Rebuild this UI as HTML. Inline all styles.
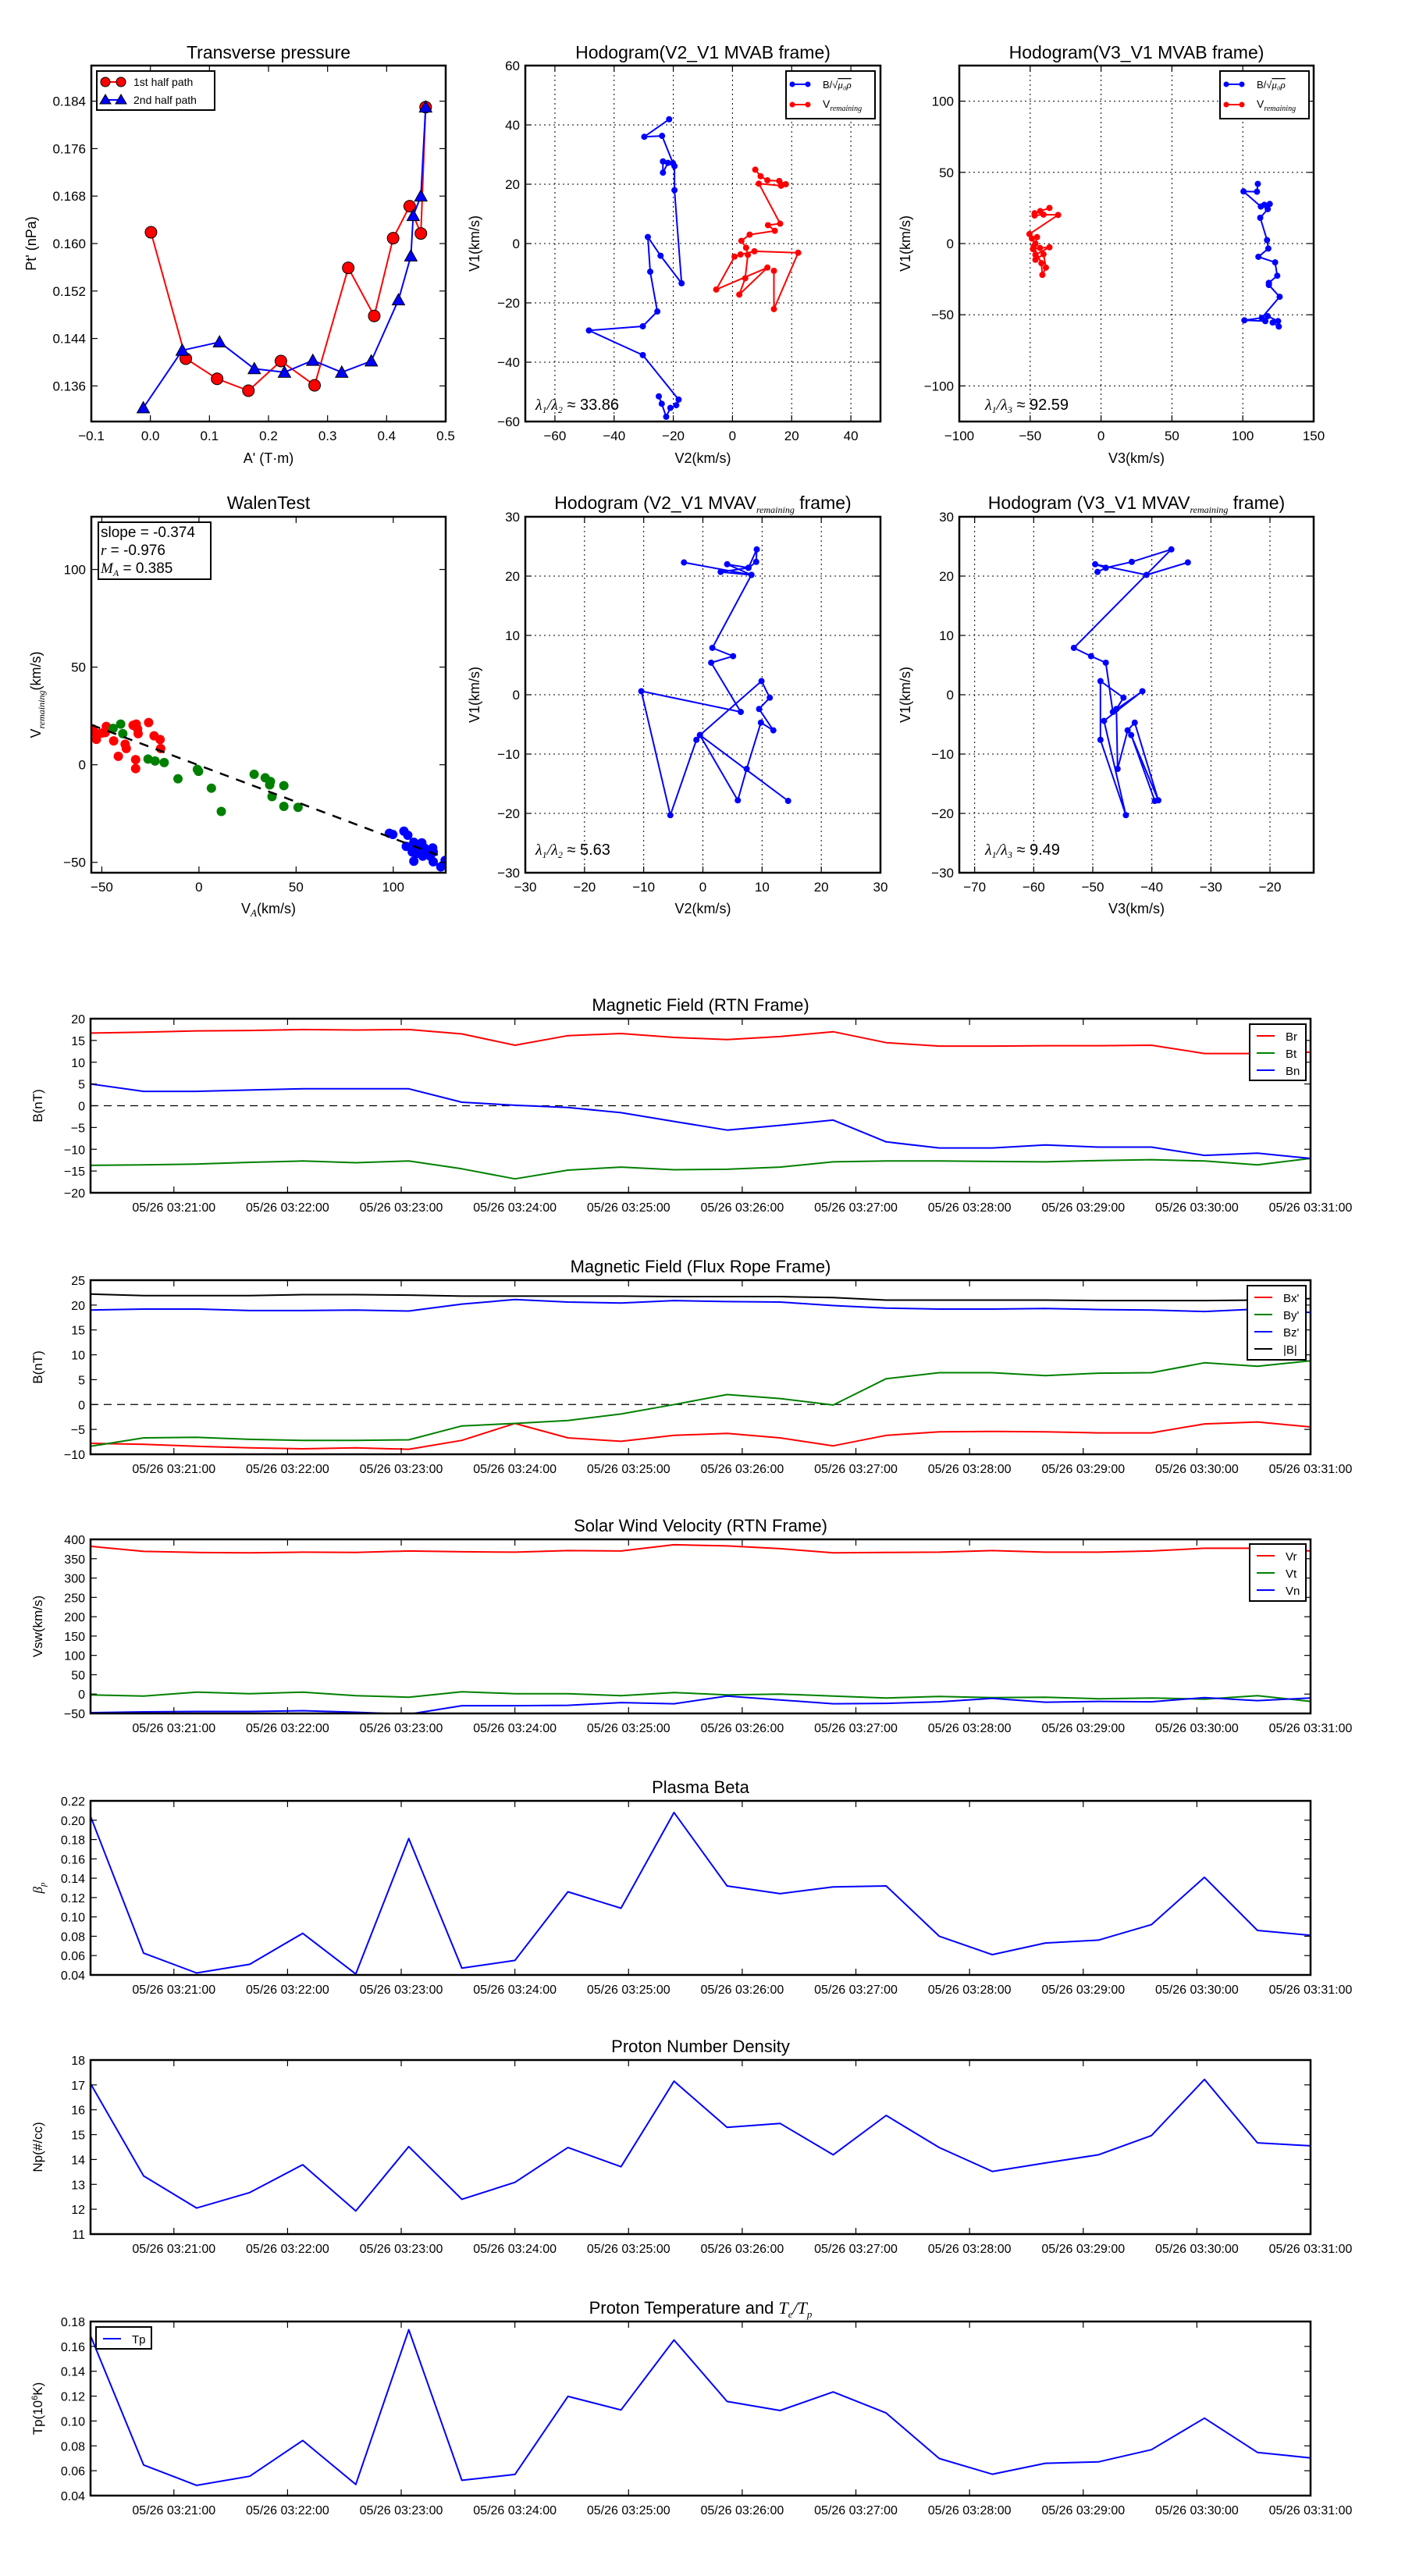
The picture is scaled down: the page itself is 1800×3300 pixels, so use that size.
<!DOCTYPE html>
<html><head><meta charset="utf-8"><style>
html,body{margin:0;padding:0;background:#fff;}
svg{display:block;font-family:"Liberation Sans","DejaVu Sans",sans-serif;}
</style></head>
<body>
<svg id="fig" xmlns="http://www.w3.org/2000/svg" width="1800" height="3300" viewBox="0 0 1800 3300">
<rect width="1800" height="3300" fill="#fff"/>
</svg>
<script>
// ---------- DATA ----------
const ptRedA=[0.001,0.060,0.113,0.166,0.221,0.278,0.335,0.379,0.411,0.439,0.458,0.466];
const ptRedP=[0.1619,0.1406,0.1372,0.1352,0.1402,0.1361,0.1559,0.1478,0.1609,0.1663,0.1617,0.1830];
const ptBlueA=[-0.012,0.054,0.117,0.176,0.227,0.275,0.324,0.374,0.420,0.441,0.445,0.458,0.466];
const ptBlueP=[0.1323,0.1420,0.1434,0.1389,0.1383,0.1403,0.1383,0.1402,0.1505,0.1579,0.1647,0.1680,0.1830];

const h1BlueX=[-21.4,-29.8,-23.8,-20.1,-23.5,-23.5,-21.8,-19.6,-19.6,-17.2,-24.3,-28.6,-27.8,-25.4,-30.3,-48.5,-30.3,-18.2,-19.0,-21.0,-22.4,-23.9,-24.9];
const h1BlueY=[41.9,36.0,36.3,27.1,27.7,23.9,27.2,26.1,18.0,-13.4,-4.1,2.2,-9.5,-22.9,-27.9,-29.3,-37.6,-52.6,-54.5,-55.4,-58.4,-54.0,-51.5];
const h1RedX=[7.7,9.5,11.8,15.8,18.0,16.4,8.9,16.1,12.0,14.3,5.8,3.0,4.6,5.2,4.3,2.3,11.8,-5.5,0.7,2.7,7.4,22.2,14.0,14.0];
const h1RedY=[24.9,22.7,21.3,21.1,20.0,19.5,20.2,6.7,6.2,4.3,3.0,0.9,-1.4,-3.8,-11.7,-17.2,-8.1,-15.5,-4.4,-3.7,-2.6,-3.1,-22.1,-9.2];

const h2RedX=[-36.4,-42.9,-46.9,-46.9,-40.6,-30.3,-50.5,-48.8,-45.2,-46.3,-48.0,-43.1,-36.4,-46.3,-46.3,-40.6,-38.9,-41.4,-42.1,-47.6];
const h2RedY=[25.0,22.8,21.3,19.7,20.3,20.1,6.7,3.5,4.5,0.0,-3.9,-3.1,-2.6,-7.9,-11.4,-7.5,-16.9,-22.0,-13.8,-2.0];
const h2BlueX=[110.6,110.0,100.5,112.7,115.2,119.0,117.6,112.3,117.1,118.0,111.0,122.8,124.3,118.4,118.4,126.0,113.4,101.1,115.9,117.6,124.9,121.1,125.4];
const h2BlueY=[41.9,36.4,36.6,26.0,27.2,27.8,24.2,18.1,2.4,-3.5,-9.3,-13.2,-22.6,-27.6,-29.1,-37.4,-52.2,-53.9,-54.5,-51.0,-54.5,-55.5,-58.3];

const wRedX=[-53.1,-52.8,-50,-47.7,-48.2,-43.9,-41.5,-38.0,-37.4,-33.9,-32.3,-31.6,-31.3,-32.6,-32.6,-25.9,-23.1,-20.0,-19.7,-54.6];
const wRedY=[16.2,13.0,16.2,19.6,16.5,12.2,4.3,10.5,8.3,20.2,20.8,18.3,15.9,2.6,-2.0,21.6,14.8,12.9,8.3,18.3];
const wGreenX=[-44.2,-40.3,-39.2,-26.2,-22.6,-17.9,-10.8,-0.8,-0.2,6.4,11.5,28.4,34.1,36.8,36.4,37.6,43.7,43.7,51.0];
const wGreenY=[18.6,20.8,15.9,2.9,1.9,1.1,-7.2,-2.4,-3.4,-12.0,-23.9,-4.9,-6.7,-8.6,-10.3,-16.3,-10.7,-21.3,-21.8];
const wBlueX=[98.0,99.8,105.5,107.5,106.7,110.6,111.4,109.8,114.7,116.0,115.2,119.0,120.3,120.6,110.6,120.6,124.5,126.7,112.2,116.8];
const wBlueY=[-35.1,-35.7,-34.0,-36.1,-41.8,-39.7,-42.6,-44.7,-40.0,-42.6,-46.8,-46.8,-42.6,-44.7,-49.4,-49.7,-52.3,-49.0,-45.4,-45.4];
const walenSlope=-0.374, walenIntercept=-0.3;

const h3X=[-3.2,8.2,4.1,7.7,9.0,9.1,7.7,3.0,8.2,1.6,5.1,1.4,6.4,-10.4,-5.5,-1.1,-0.5,9.9,11.3,9.5,11.9,9.8,7.4,5.9,-0.5,14.4];
const h3Y=[22.3,20.2,22.0,21.4,22.4,24.5,21.4,20.7,20.2,7.9,6.5,5.4,-2.9,0.6,-20.3,-7.6,-6.8,2.3,-0.5,-2.4,-6.0,-4.7,-12.5,-17.8,-6.8,-17.9];
const h4X=[-33.9,-40.9,-49.6,-47.8,-49.2,-47.8,-43.4,-36.7,-53.2,-50.3,-47.8,-46.6,-41.6,-48.1,-44.4,-48.7,-48.7,-44.8,-46.0,-45.8,-44.1,-42.9,-38.9,-43.5,-39.5];
const h4Y=[22.3,20.2,22.0,21.4,20.7,21.4,22.4,24.5,7.9,6.5,5.4,-2.9,0.6,-4.4,-20.3,-7.6,2.3,-0.5,-2.4,-12.5,-6.0,-4.7,-17.8,-6.8,-17.9];

// time series: seconds relative to 03:21:00
const times=[-44,-16,12,40,68,96,124,152,180,208,236,264,292,320,348,376,404,432,460,488,516,544,572,600];
const tickMinutes=["05/26 03:21:00","05/26 03:22:00","05/26 03:23:00","05/26 03:24:00","05/26 03:25:00","05/26 03:26:00","05/26 03:27:00","05/26 03:28:00","05/26 03:29:00","05/26 03:30:00","05/26 03:31:00"];
const Br=[16.7,16.9,17.2,17.3,17.5,17.4,17.5,16.5,13.9,16.1,16.6,15.7,15.2,15.9,17.0,14.5,13.7,13.7,13.8,13.8,13.9,12.0,12.0,12.3];
const Bt=[-13.7,-13.6,-13.4,-13.0,-12.7,-13.1,-12.7,-14.5,-16.8,-14.8,-14.1,-14.7,-14.6,-14.1,-12.9,-12.7,-12.7,-12.8,-12.9,-12.6,-12.4,-12.7,-13.6,-12.1];
const Bn=[5.0,3.3,3.3,3.6,3.9,3.9,3.9,0.8,0.1,-0.4,-1.6,-3.6,-5.6,-4.5,-3.3,-8.3,-9.7,-9.7,-9.0,-9.5,-9.5,-11.4,-10.9,-12.1];
const Bxp=[-7.8,-8.0,-8.4,-8.7,-8.9,-8.7,-9.0,-7.2,-3.8,-6.7,-7.4,-6.2,-5.8,-6.7,-8.3,-6.2,-5.5,-5.4,-5.5,-5.7,-5.7,-3.9,-3.5,-4.5];
const Byp=[-8.4,-6.7,-6.6,-7.0,-7.2,-7.2,-7.1,-4.3,-3.8,-3.2,-1.9,0.0,2.0,1.2,-0.1,5.2,6.4,6.4,5.8,6.3,6.4,8.4,7.7,8.8];
const Bzp=[19.0,19.2,19.2,18.9,18.9,19.0,18.8,20.2,21.1,20.6,20.4,20.9,20.7,20.6,19.9,19.4,19.2,19.2,19.3,19.1,19.0,18.7,19.2,18.5];
const Bmag=[22.2,21.9,21.9,21.9,22.1,22.1,22.0,21.8,21.8,21.8,21.8,21.7,21.7,21.7,21.5,21.0,21.0,21.0,21.0,20.9,20.9,20.9,21.0,21.3];
const Vr=[382,369,366,365,367,366,370,368,367,371,370,386,383,376,365,366,367,371,367,367,370,377,377,370];
const Vt=[-2,-5,5,1,5,-4,-8,6,1,1,-4,4,-2,0,-5,-10,-6,-9,-8,-12,-10,-13,-4,-19];
const Vn=[-48,-46,-45,-45,-43,-47,-52,-30,-30,-29,-22,-25,-5,-15,-25,-24,-20,-11,-21,-19,-20,-9,-17,-10];
const beta=[0.204,0.0625,0.042,0.051,0.083,0.041,0.181,0.047,0.055,0.126,0.109,0.208,0.132,0.124,0.131,0.132,0.080,0.061,0.073,0.076,0.092,0.141,0.086,0.081];
const Np=[17.05,13.34,12.05,12.67,13.79,11.93,14.52,12.40,13.08,14.48,13.71,17.15,15.29,15.45,14.19,15.77,14.48,13.52,13.86,14.19,14.96,17.22,14.67,14.55];
const Tp=[0.1685,0.0646,0.0482,0.0556,0.0843,0.049,0.1734,0.0523,0.057,0.1198,0.1089,0.1652,0.1157,0.1084,0.1234,0.1064,0.0698,0.0572,0.066,0.0671,0.0769,0.1023,0.0747,0.0703];

// ---------- HELPERS ----------
const NS="http://www.w3.org/2000/svg";
const fig=document.getElementById('fig');
function el(tag,attrs,parent){const e=document.createElementNS(NS,tag);for(const k in attrs)e.setAttribute(k,attrs[k]);(parent||fig).appendChild(e);return e;}
function tag(e,n,inter){
  
  
  return e;}
function fmt(v,d){let s=v.toFixed(d);if(v<0||s.startsWith('-'))s='\u2212'+s.replace('-','');return s;}
let clipId=0;
function axes(o){
  const g=el('g',{});tag(g,o.name+'-panel');
  const sx=v=>o.l+(v-o.xmin)/(o.xmax-o.xmin)*o.w;
  const sy=v=>o.t+o.h-(v-o.ymin)/(o.ymax-o.ymin)*o.h;
  const cid='c'+(clipId++);
  const cp=el('clipPath',{id:cid},g);el('rect',{x:o.l,y:o.t,width:o.w,height:o.h},cp);
  // grid
  if(o.grid){
    o.xt.forEach(v=>{const ln=el('line',{x1:sx(v),x2:sx(v),y1:o.t,y2:o.t+o.h,stroke:'#000','stroke-width':1,'stroke-dasharray':'2,4'},g);tag(ln,'x-gridline');});
    o.yt.forEach(v=>{const ln=el('line',{y1:sy(v),y2:sy(v),x1:o.l,x2:o.l+o.w,stroke:'#000','stroke-width':1,'stroke-dasharray':'2,4'},g);tag(ln,'y-gridline');});
  }
  const data=el('g',{'clip-path':'url(#'+cid+')'},g);tag(data,o.name+'-plot-area');
  // ticks
  const tl=8;
  o.xt.forEach((v,i)=>{const x=sx(v);
    el('line',{x1:x,x2:x,y1:o.t+o.h,y2:o.t+o.h-tl,stroke:'#000','stroke-width':1.2},g);
    el('line',{x1:x,x2:x,y1:o.t,y2:o.t+tl,stroke:'#000','stroke-width':1.2},g);
    const lab=o.xl?o.xl[i]:fmt(v,o.xd||0);
    const t=el('text',{x:x,y:o.t+o.h+(o.xoff||24),'text-anchor':'middle','font-size':o.tfs||17},g);t.textContent=lab;tag(t,'x-tick-label');});
  o.yt.forEach((v,i)=>{const y=sy(v);
    el('line',{x1:o.l,x2:o.l+tl,y1:y,y2:y,stroke:'#000','stroke-width':1.2},g);
    el('line',{x1:o.l+o.w,x2:o.l+o.w-tl,y1:y,y2:y,stroke:'#000','stroke-width':1.2},g);
    const t=el('text',{x:o.l-7,y:y+6,'text-anchor':'end','font-size':o.tfs||17},g);t.textContent=o.yl?o.yl[i]:fmt(v,o.yd||0);tag(t,'y-tick-label');});
  return {g,data,sx,sy,o};
}
function frame(a){const r=el('rect',{x:a.o.l,y:a.o.t,width:a.o.w,height:a.o.h,fill:'none',stroke:'#000','stroke-width':2.5},a.g);tag(r,a.o.name+'-frame');}
function title(a,html,y){const t=el('text',{x:a.o.l+a.o.w/2,y:y,'text-anchor':'middle','font-size':a.o.titleFs||23},a.g);t.innerHTML=html;tag(t,a.o.name+'-title');}
function xlabel(a,html,y){const t=el('text',{x:a.o.l+a.o.w/2,y:y,'text-anchor':'middle','font-size':18},a.g);t.innerHTML=html;tag(t,'x-axis-title');}
function ylabel(a,html,x,fs){const cy=a.o.t+a.o.h/2;const t=el('text',{x:x,y:cy,'text-anchor':'middle','font-size':fs||18,transform:'rotate(-90 '+x+' '+cy+')'},a.g);t.innerHTML=html;tag(t,'y-axis-title');}
function line(a,xs,ys,color,w,name){const p=xs.map((x,i)=>a.sx(x).toFixed(1)+','+a.sy(ys[i]).toFixed(1)).join(' ');const l=el('polyline',{points:p,fill:'none',stroke:color,'stroke-width':w||2,'stroke-linejoin':'round'},a.data);tag(l,name);return l;}
function dots(a,xs,ys,color,r,name,stroke){xs.forEach((x,i)=>{const c=el('circle',{cx:a.sx(x),cy:a.sy(ys[i]),r:r,fill:color,stroke:stroke||'none','stroke-width':1},a.data);tag(c,name);});}
function tris(a,xs,ys,color,s,name){xs.forEach((x,i)=>{const cx=a.sx(x),cy=a.sy(ys[i]);const p=el('polygon',{points:`${cx},${cy-s} ${cx-s},${cy+s*0.8} ${cx+s},${cy+s*0.8}`,fill:color,stroke:'#000','stroke-width':1},a.data);tag(p,name);});}
function range(a,b,s){const r=[];for(let v=a;v<=b+1e-9;v+=s)r.push(+v.toFixed(6));return r;}
const SUBREM='<tspan font-family="Liberation Serif" font-style="italic" font-size="12" dy="5">remaining</tspan>';

// ---------- ROW 1 ----------
const R1={t:84,h:456};
let a=axes({name:'transverse-pressure',l:117,t:R1.t,w:454,h:R1.h,xmin:-0.1,xmax:0.5,ymin:0.130,ymax:0.190,xt:range(-0.1,0.5,0.1),yt:range(0.136,0.184,0.008),xd:1,yd:3});
line(a,ptRedA,ptRedP,'#ff0000',2,'first-half-line');dots(a,ptRedA,ptRedP,'#ff0000',7.5,'first-half-marker','#000');
line(a,ptBlueA,ptBlueP,'#0000ff',2,'second-half-line');tris(a,ptBlueA,ptBlueP,'#0000ff',8,'second-half-marker');
frame(a);title(a,'Transverse pressure',75);xlabel(a,"A' (T\u00b7m)",593);ylabel(a,"Pt' (nPa)",46);
{const lg=el('g',{},a.g);tag(lg,'legend');el('rect',{x:124,y:91,width:151,height:50,fill:'#fff',stroke:'#000','stroke-width':2},lg);
 el('line',{x1:135,x2:155,y1:105,y2:105,stroke:'#f00','stroke-width':2},lg);el('circle',{cx:135,cy:105,r:6,fill:'#f00',stroke:'#000'},lg);el('circle',{cx:155,cy:105,r:6,fill:'#f00',stroke:'#000'},lg);
 let t=el('text',{x:171,y:110,'font-size':14},lg);t.textContent='1st half path';tag(t,'legend-entry');
 el('line',{x1:135,x2:155,y1:128,y2:128,stroke:'#00f','stroke-width':2},lg);
 [135,155].forEach(cx=>el('polygon',{points:`${cx},${121} ${cx-7},${133} ${cx+7},${133}`,fill:'#00f',stroke:'#000'},lg));
 t=el('text',{x:171,y:133,'font-size':14},lg);t.textContent='2nd half path';tag(t,'legend-entry');}

function hodoLegend(a,x,y){const lg=el('g',{},a.g);tag(lg,'legend');el('rect',{x:x,y:y,width:114,height:61,fill:'#fff',stroke:'#000','stroke-width':2},lg);
 el('line',{x1:x+8,x2:x+28,y1:y+17,y2:y+17,stroke:'#00f','stroke-width':2},lg);el('circle',{cx:x+8,cy:y+17,r:3.5,fill:'#00f'},lg);el('circle',{cx:x+28,cy:y+17,r:3.5,fill:'#00f'},lg);
 let t=el('text',{x:x+47,y:y+22,'font-size':13},lg);t.innerHTML='B/\u221a<tspan font-family="Liberation Serif" font-style="italic" text-decoration="overline">\u03bc\u2080\u03c1</tspan>';tag(t,'legend-entry');
 el('line',{x1:x+8,x2:x+28,y1:y+43,y2:y+43,stroke:'#f00','stroke-width':2},lg);el('circle',{cx:x+8,cy:y+43,r:3.5,fill:'#f00'},lg);el('circle',{cx:x+28,cy:y+43,r:3.5,fill:'#f00'},lg);
 t=el('text',{x:x+47,y:y+47,'font-size':14},lg);t.innerHTML='V<tspan font-family="Liberation Serif" font-style="italic" font-size="10" dy="4">remaining</tspan>';tag(t,'legend-entry');}
function lam(a,x,y,txt,sub){const t=el('text',{x:x,y:y,'font-size':20},a.g);t.innerHTML='<tspan font-family="Liberation Serif" font-style="italic">\u03bb<tspan font-size="12" dy="4">1</tspan><tspan dy="-4">/\u03bb</tspan><tspan font-size="12" dy="4">'+sub+'</tspan></tspan><tspan dy="-4"> \u2248 '+txt+'</tspan>';tag(t,'eigenvalue-ratio');}

a=axes({name:'hodogram-v2-v1-mvab',l:673,t:R1.t,w:455,h:R1.h,xmin:-70,xmax:50,ymin:-60,ymax:60,xt:range(-60,40,20),yt:range(-60,60,20),grid:true});
line(a,h1BlueX,h1BlueY,'#0000ff',2,'b-alfven-line');dots(a,h1BlueX,h1BlueY,'#0000ff',4,'b-alfven-point');
line(a,h1RedX,h1RedY,'#ff0000',2,'v-remaining-line');dots(a,h1RedX,h1RedY,'#ff0000',4,'v-remaining-point');
frame(a);title(a,'Hodogram(V2_V1 MVAB frame)',75);xlabel(a,'V2(km/s)',593);ylabel(a,'V1(km/s)',614);hodoLegend(a,1007,91);lam(a,686,525,'33.86','2');

a=axes({name:'hodogram-v3-v1-mvab',l:1229,t:R1.t,w:454,h:R1.h,xmin:-100,xmax:150,ymin:-125,ymax:125,xt:range(-100,150,50),yt:range(-100,100,50),grid:true});
line(a,h2RedX,h2RedY,'#ff0000',2,'v-remaining-line');dots(a,h2RedX,h2RedY,'#ff0000',4,'v-remaining-point');
line(a,h2BlueX,h2BlueY,'#0000ff',2,'b-alfven-line');dots(a,h2BlueX,h2BlueY,'#0000ff',4,'b-alfven-point');
frame(a);title(a,'Hodogram(V3_V1 MVAB frame)',75);xlabel(a,'V3(km/s)',593);ylabel(a,'V1(km/s)',1166);hodoLegend(a,1563,91);lam(a,1262,525,'92.59','3');

// ---------- ROW 2 ----------
const R2={t:662,h:456};
a=axes({name:'walen-test',l:117,t:R2.t,w:454,h:R2.h,xmin:-55.4,xmax:127,ymin:-55.3,ymax:127,xt:[-50,0,50,100],yt:[-50,0,50,100]});
dots(a,wRedX,wRedY,'#ff0000',6,'walen-point-red');dots(a,wGreenX,wGreenY,'#008000',6,'walen-point-green');dots(a,wBlueX,wBlueY,'#0000ff',6,'walen-point-blue');
{const xs=[-55.4,127];const l=el('line',{x1:a.sx(xs[0]),y1:a.sy(walenSlope*xs[0]+walenIntercept),x2:a.sx(xs[1]),y2:a.sy(walenSlope*xs[1]+walenIntercept),stroke:'#000','stroke-width':2.5,'stroke-dasharray':'12,10'},a.data);tag(l,'regression-line');}
frame(a);title(a,'WalenTest',652);xlabel(a,'V<tspan font-family="Liberation Serif" font-style="italic" font-size="13" dy="4">A</tspan><tspan dy="-4">(km/s)</tspan>',1170);
ylabel(a,'V<tspan font-family="Liberation Serif" font-style="italic" font-size="12" dy="5">remaining</tspan><tspan dy="-5">(km/s)</tspan>',52);
{const bx=el('g',{},a.g);tag(bx,'fit-stats-box');el('rect',{x:126,y:669,width:144,height:73,fill:'#fff',stroke:'#000','stroke-width':2},bx);
 let t=el('text',{x:129,y:688,'font-size':19},bx);t.textContent='slope = -0.374';tag(t,'slope-label');
 t=el('text',{x:129,y:711,'font-size':19},bx);t.innerHTML='<tspan font-family="Liberation Serif" font-style="italic">r</tspan> = -0.976';tag(t,'r-label');
 t=el('text',{x:129,y:734,'font-size':19},bx);t.innerHTML='<tspan font-family="Liberation Serif" font-style="italic">M<tspan font-size="12" dy="4">A</tspan></tspan><tspan dy="-4"> = 0.385</tspan>';tag(t,'ma-label');}

a=axes({name:'hodogram-v2-v1-mvav',l:673,t:R2.t,w:455,h:R2.h,xmin:-30,xmax:30,ymin:-30,ymax:30,xt:range(-30,30,10),yt:range(-30,30,10),grid:true});
line(a,h3X,h3Y,'#0000ff',2,'hodogram-line');dots(a,h3X,h3Y,'#0000ff',4,'hodogram-point');
frame(a);title(a,'Hodogram (V2_V1 MVAV'+SUBREM+'<tspan dy="-5"> frame)</tspan>',652);xlabel(a,'V2(km/s)',1170);ylabel(a,'V1(km/s)',614);lam(a,686,1095,'5.63','2');

a=axes({name:'hodogram-v3-v1-mvav',l:1229,t:R2.t,w:454,h:R2.h,xmin:-72.6,xmax:-12.6,ymin:-30,ymax:30,xt:range(-70,-20,10),yt:range(-30,30,10),grid:true});
line(a,h4X,h4Y,'#0000ff',2,'hodogram-line');dots(a,h4X,h4Y,'#0000ff',4,'hodogram-point');
frame(a);title(a,'Hodogram (V3_V1 MVAV'+SUBREM+'<tspan dy="-5"> frame)</tspan>',652);xlabel(a,'V3(km/s)',1170);ylabel(a,'V1(km/s)',1166);lam(a,1262,1095,'9.49','3');

// ---------- TIME SERIES ----------
const TS={l:116,w:1563,h:223,xmin:-44,xmax:600};
const tTicks=range(0,600,60);
function ts(name,top,ymin,ymax,yt,yd,ttl,ylab,series,legend,zero){
  const a=axes({name:name,l:TS.l,t:top,w:TS.w,h:TS.h,xmin:TS.xmin,xmax:TS.xmax,ymin:ymin,ymax:ymax,xt:tTicks,xl:tickMinutes,yt:yt,yd:yd,tfs:16,titleFs:22});
  if(zero){const z=el('line',{x1:TS.l,x2:TS.l+TS.w,y1:a.sy(0),y2:a.sy(0),stroke:'#000','stroke-width':1.3,'stroke-dasharray':'10,7'},a.data);tag(z,'zero-line');}
  series.forEach(s=>line(a,times,s.v,s.c,2,s.n+'-line'));
  frame(a);title(a,ttl,top-10);ylabel(a,ylab,54,17);
  if(legend){const lg=el('g',{},a.g);tag(lg,'legend');el('rect',{x:legend.x,y:legend.y,width:legend.w,height:legend.h,fill:'#fff',stroke:'#000','stroke-width':2},lg);
    series.forEach((s,i)=>{const yy=legend.y+15+i*legend.step;el('line',{x1:legend.x+9,x2:legend.x+32,y1:yy,y2:yy,stroke:s.c,'stroke-width':2},lg);const t=el('text',{x:legend.x+46,y:yy+6,'font-size':15},lg);t.textContent=s.lab;tag(t,'legend-entry');});}
  return a;}
ts('magnetic-field-rtn',1305,-20,20,range(-20,20,5),0,'Magnetic Field (RTN Frame)','B(nT)',
  [{v:Br,c:'#ff0000',n:'br',lab:'Br'},{v:Bt,c:'#008000',n:'bt',lab:'Bt'},{v:Bn,c:'#0000ff',n:'bn',lab:'Bn'}],{x:1601,y:1312,w:72,h:72,step:22},true);
ts('magnetic-field-flux-rope',1640,-10,25,range(-10,25,5),0,'Magnetic Field (Flux Rope Frame)','B(nT)',
  [{v:Bxp,c:'#ff0000',n:'bx',lab:"Bx'"},{v:Byp,c:'#008000',n:'by',lab:"By'"},{v:Bzp,c:'#0000ff',n:'bz',lab:"Bz'"},{v:Bmag,c:'#000000',n:'btotal',lab:'|B|'}],{x:1598,y:1647,w:75,h:95,step:22},true);
ts('solar-wind-velocity',1972,-50,400,range(-50,400,50),0,'Solar Wind Velocity (RTN Frame)','Vsw(km/s)',
  [{v:Vr,c:'#ff0000',n:'vr',lab:'Vr'},{v:Vt,c:'#008000',n:'vt',lab:'Vt'},{v:Vn,c:'#0000ff',n:'vn',lab:'Vn'}],{x:1601,y:1978,w:72,h:73,step:22},false);
ts('plasma-beta',2307,0.04,0.22,range(0.04,0.22,0.02),2,'Plasma Beta','<tspan font-family="Liberation Serif" font-style="italic">\u03b2<tspan font-size="11" dy="4">p</tspan></tspan>',
  [{v:beta,c:'#0000ff',n:'beta',lab:'beta'}],null,false);
ts('proton-density',2639,11,18,range(11,18,1),0,'Proton Number Density','Np(#/cc)',
  [{v:Np,c:'#0000ff',n:'np',lab:'Np'}],null,false);
ts('proton-temperature',2974,0.04,0.18,range(0.04,0.18,0.02),2,'Proton Temperature and <tspan font-family="Liberation Serif" font-style="italic">T<tspan font-size="13" dy="5">e</tspan><tspan dy="-5">/T</tspan><tspan font-size="13" dy="5">p</tspan></tspan>','Tp(10<tspan font-size="11" dy="-6">6</tspan><tspan dy="6">K)</tspan>',
  [{v:Tp,c:'#0000ff',n:'tp',lab:'Tp'}],{x:123,y:2981,w:71,h:28,step:22},false);
</script>
</body></html>
